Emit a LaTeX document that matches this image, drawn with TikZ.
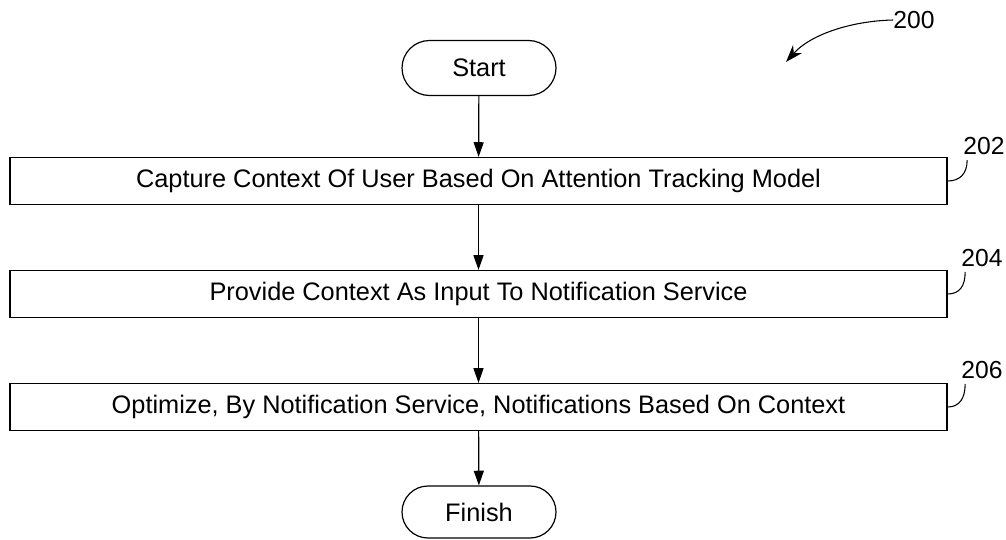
\documentclass[tikz,border=0pt]{standalone}
\usepackage{fontspec}
\setmainfont{Liberation Sans}
\usetikzlibrary{positioning,arrows.meta}

\begin{document}
\begin{tikzpicture}[
  x=0.75pt, y=-0.75pt,
  font=\fontsize{19}{22}\selectfont,
  term/.style={draw, line width=0.9pt, rounded corners=27.5*0.75pt,
               minimum width=154*0.75pt, minimum height=55*0.75pt, inner sep=0pt},
  stepbox/.style={draw, line width=0.9pt, minimum width=937*0.75pt,
                  minimum height=47*0.75pt, inner sep=0pt},
  flow/.style={-{Triangle[length=11pt, width=7.5pt]}, line width=0.9pt},
  ref/.style={font=\fontsize{18.5}{21}\selectfont, inner sep=0pt},
  lead/.style={line width=0.8pt},
]
  \useasboundingbox (0,0) rectangle (1006,539);

  \node[term] (start) at (479,68) {Start};
  \node[stepbox] (capture) at (478.5,181) {Capture Context Of User Based On Attention Tracking Model};
  \node[stepbox] (provide) at (478.5,294) {Provide Context As Input To Notification Service};
  \node[stepbox] (optimize) at (478.5,407) {Optimize, By Notification Service, Notifications Based On Context};
  \node[term, minimum height=52*0.75pt, rounded corners=26*0.75pt] (finish) at (479,512) {Finish};

  \draw[flow] (start) -- (capture);
  \draw[flow] (capture) -- (provide);
  \draw[flow] (provide) -- (optimize);
  \draw[flow] (optimize) -- (finish);

  % reference numerals
  \node[ref] (n200) at (914,20) {200};
  \coordinate (fig) at (786,62);
  \draw[lead, -{Stealth[length=13pt, width=9pt]}] (n200.west) .. controls (850,21) and (810,35) .. (fig);

  \node[ref] (n202) at (984,146) {202};
  \draw[lead] (n202.south west) ++(4,5) .. controls +(0,14) and +(12,0) .. (capture.east);
  \node[ref] (n204) at (982,258) {204};
  \draw[lead] (n204.south west) ++(4,5) .. controls +(0,14) and +(12,0) .. (provide.east);
  \node[ref] (n206) at (982,370) {206};
  \draw[lead] (n206.south west) ++(4,5) .. controls +(0,14) and +(12,0) .. (optimize.east);
\end{tikzpicture}
\end{document}
